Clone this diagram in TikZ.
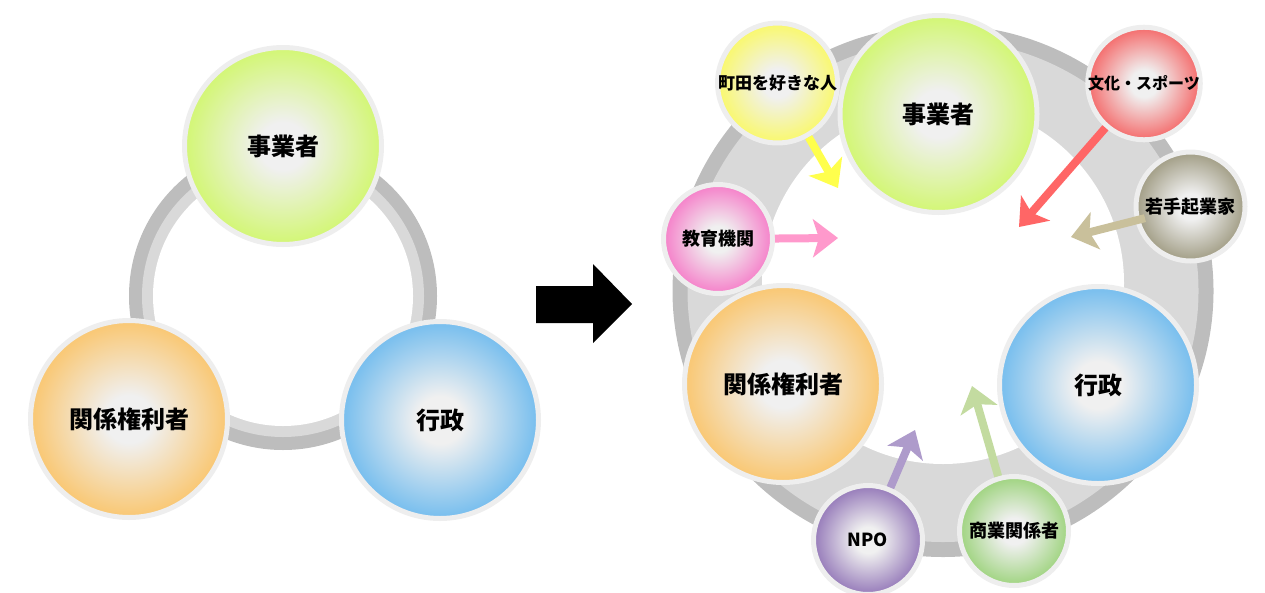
\documentclass[tikz,border=0pt]{standalone}
\usepackage{fontspec}
\setmainfont{Noto Sans CJK JP}[BoldFont={Noto Sans CJK JP Black}]
\usetikzlibrary{arrows.meta}

\definecolor{ballmid}{HTML}{F0F0F0}
\definecolor{ballrim}{HTML}{EEEEEE}
\definecolor{ringdark}{HTML}{BDBDBD}
\definecolor{ringlight}{HTML}{D9D9D9}
\definecolor{ayel}{HTML}{FFFF4D}
\definecolor{apink}{HTML}{FF99CC}
\definecolor{ared}{HTML}{FF6666}
\definecolor{atan}{HTML}{C9C09B}
\definecolor{apurple}{HTML}{AE9BCB}
\definecolor{agreen}{HTML}{C3DBA0}

% one radial shading per ball colour
\newcommand\ballcolour[2]{%
  \definecolor{c#1}{HTML}{#2}%
  \pgfdeclareradialshading{ball#1}{\pgfpoint{0bp}{0bp}}%
    {color(0bp)=(ballmid); color(6bp)=(ballmid); color(24bp)=(c#1); color(25bp)=(c#1); color(50bp)=(c#1)}}
\ballcolour{jigyo}{D4F67A}
\ballcolour{kankei}{F9C978}
\ballcolour{gyosei}{7CC0EE}
\ballcolour{machida}{F9F872}
\ballcolour{bunka}{F47272}
\ballcolour{wakate}{A5A18A}
\ballcolour{kyoiku}{F585CB}
\ballcolour{npo}{9A80BC}
\ballcolour{shogyo}{A3D585}

\tikzset{
  bigball/.style={circle, draw=ballrim, line width=5pt, inner sep=0pt,
    minimum size=197pt, shade, shading=ball#1,
    font=\bfseries\fontsize{24pt}{28pt}\selectfont},
  smallball/.style={circle, draw=ballrim, line width=5pt, inner sep=0pt,
    minimum size=109pt, shade, shading=ball#1,
    font=\bfseries\fontsize{18pt}{20pt}\selectfont},
  arr/.style={draw=#1, line width=8pt,
    -{Stealth[length=25pt,width=38pt,inset=6pt]}}
}

\begin{document}
\begin{tikzpicture}[x=1pt,y=-1pt]
    \useasboundingbox (0,0) rectangle (1265,592);
    % rings
    \coordinate (ringL) at (283,296);
    \fill[ringdark] (ringL) circle (154pt);
    \fill[ringlight] (ringL) circle (141pt);
    \fill[white] (ringL) circle (130pt);
    \coordinate (ringR) at (943,291);
    \fill[ringdark] (ringR) ellipse (270.5pt and 266pt);
    \fill[ringlight] (ringR) ellipse (255.5pt and 251pt);
    \fill[white] (943,283) circle (181pt);
    % big arrow
    \fill (536,286) -- (593,286) -- (593,264) -- (632,304) -- (593,343)
      -- (593,323) -- (536,323) -- cycle;
    % left
    \node[bigball=jigyo] (Ljigyo) at (283,146) {事業者};
    \node[bigball=kankei] (Lkankei) at (129,419) {関係権利者};
    \node[bigball=gyosei] (Lgyosei) at (440,420) {行政};
    % right
    \node[bigball=jigyo] (jigyo) at (938.5,114) {事業者};
    \node[bigball=kankei] (kankei) at (783,384) {関係権利者};
    \node[bigball=gyosei] (gyosei) at (1098,385) {行政};
    \node[smallball=machida,font=\bfseries\fontsize{17pt}{20pt}\selectfont] (machida) at (777.5,83) {町田を好きな人};
    \node[smallball=bunka,font=\bfseries\fontsize{16pt}{20pt}\selectfont] (bunka) at (1144,83.5) {文化・スポーツ};
    \node[smallball=wakate] (wakate) at (1190.5,206.5) {若手起業家};
    \node[smallball=kyoiku] (kyoiku) at (718,239) {教育機関};
    \node[smallball=npo] (npo) at (868,540) {NPO};
    \node[smallball=shogyo] (shogyo) at (1014,531) {商業関係者};
    % arrow tips
    \coordinate (tipY) at (838,188);
    \coordinate (tipP) at (838,238);
    \coordinate (tipR) at (1019,227);
    \coordinate (tipT) at (1071,237);
    \coordinate (tipU) at (915,430);
    \coordinate (tipG) at (972,386);
    \path (machida) edge [arr=ayel] (tipY);
    \path (kyoiku) edge [arr=apink] (tipP);
    \path (bunka) edge [arr=ared] (tipR);
    \path (wakate) edge [arr=atan,shorten <=-10pt] (tipT);
    \path (npo) edge [arr=apurple] (tipU);
    \path (shogyo) edge [arr=agreen] (tipG);
\end{tikzpicture}
\end{document}
